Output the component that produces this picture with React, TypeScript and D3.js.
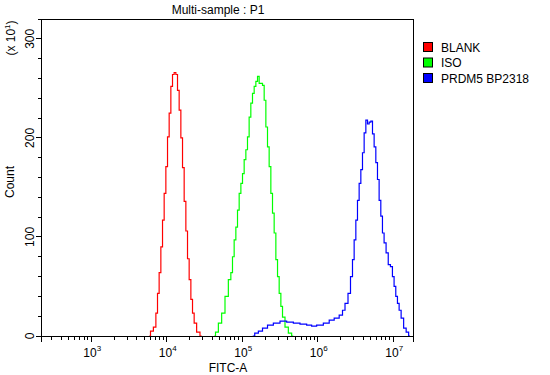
import React from "react";
import * as d3 from "d3";

const title = "Multi-sample : P1";
const xLabel = "FITC-A";
const yLabel = "Count";
const yScaleNote = "(x 10";
const legendNames = ["BLANK", "ISO", "PRDM5 BP2318"];
const seriesColors = ["#ff0000", "#00ff00", "#0000ff"];
const yTickLabels = [0, 100, 200, 300];
const xDecades = [3, 4, 5, 6, 7];

const blankFitc = [5860, 6310, 6980, 7350, 7710, 8120, 8560, 8990, 9460, 9970, 10470, 11020, 11610, 12190, 12840, 13520, 14200, 14950, 15750, 16550, 17410, 18350, 19260, 20290, 21370, 22440, 23620, 26100, 28970];
const blankCount = [0, 5, 9, 23, 43, 64, 90, 117, 144, 171, 201, 225, 252, 264, 266, 264, 248, 228, 200, 170, 136, 106, 78, 57, 37, 23, 13, 4, 0];

const isoFitc = [42560, 45810, 50670, 56000, 62100, 68700, 72300, 76000, 80000, 84300, 88500, 93300, 98200, 103100, 108600, 114300, 120000, 126400, 133000, 140000, 147300, 155200, 163000, 171500, 180600, 189800, 199900, 210400, 221000, 232700, 245000, 257500, 271000, 285600, 300100, 315800, 332500, 349300, 387000, 428500, 473500];
const isoCount = [0, 4, 13, 23, 40, 57, 64, 80, 97, 110, 127, 144, 154, 164, 178, 188, 201, 221, 235, 245, 252, 257, 262, 255, 255, 253, 238, 211, 191, 171, 144, 124, 104, 77, 60, 43, 30, 19, 9, 3, 0];

const prdmFitc = [137400, 155200, 171500, 199900, 232700, 285600, 349300, 428500, 525000, 642700, 788600, 871000, 1069000, 1312000, 1528000, 1778000, 2073000, 2177000, 2415000, 2614000, 2811000, 2952000, 3110000, 3273000, 3438000, 3622000, 3812000, 4006000, 4218000, 4444000, 4667000, 4913000, 5175000, 5433000, 5719000, 6023000, 6327000, 6658000, 7012000, 7362000, 7749000, 8312000, 8837000, 9504000, 9982000, 10510000, 11070000, 11640000, 12260000, 13150000, 14290000, 15330000, 16630000];
const prdmCount = [0, 3, 5, 8, 11, 13, 15, 14, 13, 12, 11, 10, 11, 13, 16, 18, 21, 26, 33, 43, 60, 77, 97, 117, 137, 154, 168, 185, 205, 218, 214, 216, 217, 204, 191, 175, 158, 137, 121, 104, 94, 84, 72, 70, 60, 50, 40, 33, 26, 18, 8, 4, 0];

const FONT = "'Liberation Sans', Arial, sans-serif";

export default function App() {
  const left = 41.5, right = 413, top = 19, bottom = 336;
  const x = d3.scaleLog().domain([Math.pow(10, 2.34), Math.pow(10, 7.261)]).range([left, right]);
  const y = d3.scaleLinear().domain([0, 320]).range([bottom, top]);

  const series = [
    { fitc: blankFitc, count: blankCount },
    { fitc: isoFitc, count: isoCount },
    { fitc: prdmFitc, count: prdmCount },
  ];
  const line = d3
    .line<[number, number]>()
    .x((d) => x(d[0]))
    .y((d) => y(d[1]))
    .curve(d3.curveStep);

  const minorX: number[] = [];
  for (let k = 2; k <= 7; k++) {
    for (let m = 2; m <= 9; m++) {
      const v = m * Math.pow(10, k);
      if (v > x.domain()[0] && v < x.domain()[1]) minorX.push(v);
    }
  }
  const yTicks = d3.range(0, 321, 20);

  return (
    <svg width={550} height={375} style={{ position: "absolute", left: 0, top: 0, background: "#fff" }} fontFamily={FONT}>
      <rect x={0} y={0} width={550} height={375} fill="#fff" />
      <text x={218} y={14} fontSize={12} textAnchor="middle">{title}</text>
      {/* curves */}
      <g clipPath="url(#clip)">
        {series.map((s, i) => (
          <path
            key={i}
            d={line(s.fitc.map((f, j) => [f, s.count[j]] as [number, number])) || ""}
            fill="none"
            stroke={seriesColors[i]}
            strokeWidth={1.2}
          />
        ))}
      </g>
      <defs>
        <clipPath id="clip">
          <rect x={left} y={top} width={right - left} height={bottom - top} />
        </clipPath>
      </defs>
      {/* frame */}
      <rect x={left} y={top} width={right - left} height={bottom - top} fill="none" stroke="#000" strokeWidth={1} shapeRendering="crispEdges" />
      {/* x axis ticks */}
      <g stroke="#000" shapeRendering="crispEdges">
        <line x1={left} x2={left} y1={bottom} y2={bottom + 6} />
        <line x1={right} x2={right} y1={bottom} y2={bottom + 6} />
        {minorX.map((v, i) => (
          <line key={i} x1={x(v)} x2={x(v)} y1={bottom} y2={bottom + 4} />
        ))}
        {xDecades.map((k) => (
          <line key={k} x1={x(Math.pow(10, k))} x2={x(Math.pow(10, k))} y1={bottom} y2={bottom + 6} />
        ))}
        {yTicks.map((t) => (
          <line key={t} x1={left - (t % 100 === 0 ? 6 : 4)} x2={left} y1={y(t)} y2={y(t)} />
        ))}
      </g>
      {xDecades.map((k) => (
        <text key={k} x={x(Math.pow(10, k)) - 8} y={357} fontSize={12}>
          10<tspan fontSize={8} dy={-6}>{k}</tspan>
        </text>
      ))}
      {yTickLabels.map((t) => (
        <text key={t} transform={`translate(34,${y(t)}) rotate(-90)`} fontSize={12} textAnchor="middle">{t}</text>
      ))}
      <text transform={`translate(15,38) rotate(-90)`} fontSize={12} textAnchor="middle">
        {yScaleNote}<tspan fontSize={8} dy={-5}>1</tspan><tspan dy={5}>)</tspan>
      </text>
      <text transform={`translate(14,182) rotate(-90)`} fontSize={12} textAnchor="middle">{yLabel}</text>
      <text x={228} y={372} fontSize={12} textAnchor="middle">{xLabel}</text>
      {/* legend */}
      {legendNames.map((n, i) => (
        <g key={n}>
          <rect x={423.5} y={42.5 + i * 15.5} width={9} height={9} fill={seriesColors[i]} stroke="#000" strokeWidth={1} />
          <text x={441} y={51.5 + i * 15.5} fontSize={12}>{n}</text>
        </g>
      ))}
    </svg>
  );
}
